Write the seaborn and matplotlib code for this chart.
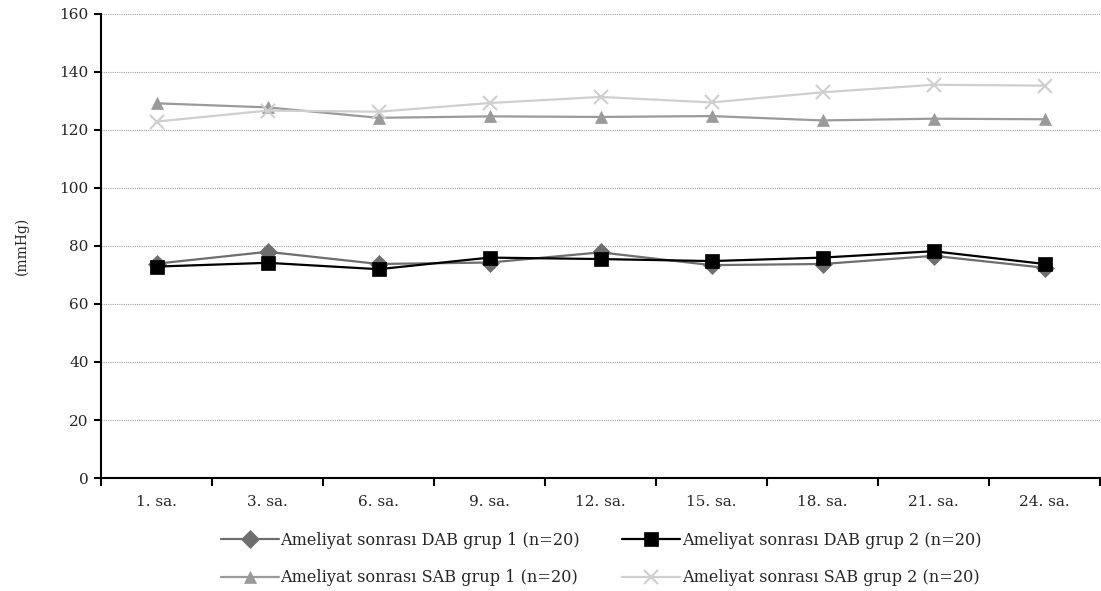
import matplotlib
matplotlib.use("Agg")
import matplotlib.pyplot as plt
from matplotlib.ticker import MultipleLocator, FixedLocator
import seaborn as sns
import pandas as pd

categories = ["1. sa.", "3. sa.", "6. sa.", "9. sa.", "12. sa.", "15. sa.", "18. sa.", "21. sa.", "24. sa."]
dab_grup1 = [73.9, 78.0, 73.8, 74.3, 77.8, 73.4, 73.8, 76.6, 72.5]
dab_grup2 = [72.9, 74.2, 72.0, 76.0, 75.5, 74.8, 76.0, 78.2, 73.8]
sab_grup1 = [129.2, 127.8, 124.2, 124.7, 124.5, 124.8, 123.3, 123.9, 123.7]
sab_grup2 = [122.9, 126.7, 126.3, 129.3, 131.4, 129.5, 133.0, 135.6, 135.3]
series_names = [
    "Ameliyat sonrası DAB grup 1 (n=20)",
    "Ameliyat sonrası DAB grup 2 (n=20)",
    "Ameliyat sonrası SAB grup 1 (n=20)",
    "Ameliyat sonrası SAB grup 2 (n=20)",
]
series_values = [dab_grup1, dab_grup2, sab_grup1, sab_grup2]

rows = []
for name, vals in zip(series_names, series_values):
    for i, (c, v) in enumerate(zip(categories, vals)):
        rows.append({"idx": i, "cat": c, "value": v, "series": name})
df = pd.DataFrame(rows)

sns.set_style("white")
plt.rcParams["font.family"] = ["DejaVu Serif"]

colors = {series_names[0]: "#6e6e6e", series_names[1]: "#000000",
          series_names[2]: "#9a9a9a", series_names[3]: "#cfcfcf"}
markers = {series_names[0]: "D", series_names[1]: "s",
           series_names[2]: "^", series_names[3]: "x"}
msizes = {series_names[0]: 9, series_names[1]: 9.5, series_names[2]: 9, series_names[3]: 10}

fig = plt.figure(figsize=(11.01, 5.91), dpi=100)
ax = fig.add_axes([101/1101, 1-478/591, 999/1101, 464/591])

for name in series_names:
    sub = df[df["series"] == name]
    sns.lineplot(data=sub, x="idx", y="value", ax=ax, color=colors[name],
                 marker=markers[name], markersize=msizes[name],
                 markeredgecolor=colors[name], markeredgewidth=1.5 if markers[name] == "x" else 0.5,
                 linewidth=1.6, label=name, legend=False)

ax.set_xlim(-0.5, len(categories) - 0.5)
ax.set_ylim(0, 160)
ax.yaxis.set_major_locator(MultipleLocator(20))
ax.set_yticklabels([str(int(t)) for t in ax.get_yticks()], fontsize=11)
ax.set_xticks(range(len(categories)))
ax.set_xticklabels(categories, fontsize=11)
ax.xaxis.set_minor_locator(FixedLocator([i - 0.5 for i in range(len(categories) + 1)]))
ax.tick_params(axis="x", which="major", bottom=True, length=0, pad=12)
ax.tick_params(axis="x", which="minor", bottom=True, length=6, width=1.5, direction="out", color="black")
ax.tick_params(axis="y", which="major", left=True, length=5, width=1.5, direction="out", color="black", pad=4)
ax.set_xlabel("")
ax.set_ylabel("(mmHg)", fontsize=10, labelpad=22)
ax.yaxis.grid(True, linestyle=(0, (1, 1)), color="#a0a0a0", linewidth=0.8)
ax.set_axisbelow(True)
for s in ["top", "right"]:
    ax.spines[s].set_visible(False)
for s in ["left", "bottom"]:
    ax.spines[s].set_color("black")
    ax.spines[s].set_linewidth(1.5)

handles, labels = ax.get_legend_handles_labels()
order = [0, 2, 1, 3]
leg = fig.legend([handles[i] for i in order], [labels[i] for i in order],
                 loc="center", bbox_to_anchor=(601/1101, 1-559/591), ncol=2,
                 frameon=False, prop={"size": 11.6}, handlelength=3.6, handletextpad=0.1,
                 columnspacing=2.6, labelspacing=1.3)

fig.savefig("out.png", dpi=100)
